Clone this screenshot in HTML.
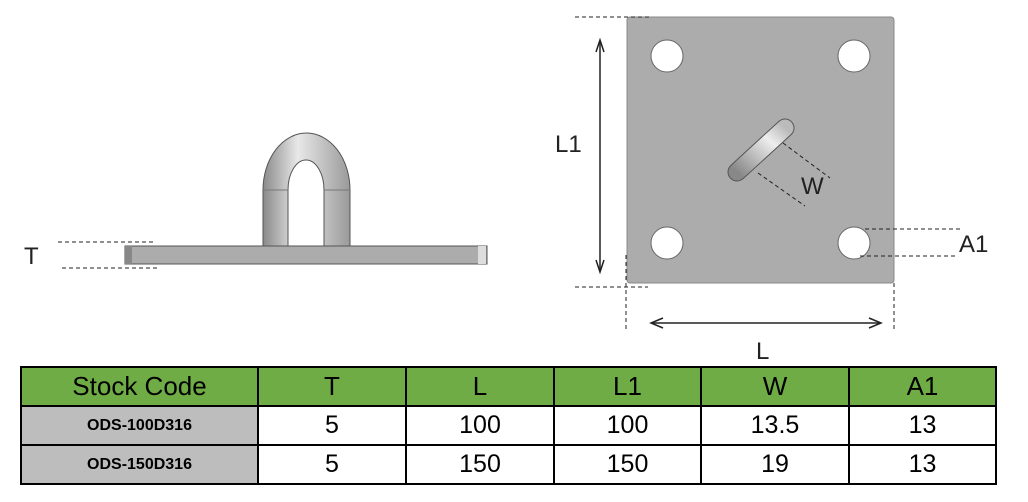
<!DOCTYPE html>
<html><head><style>
body{margin:0;background:#fff;width:1028px;height:502px;overflow:hidden;position:relative;font-family:"Liberation Sans",sans-serif}
svg{position:absolute;left:0;top:0}
table{position:absolute;left:20px;top:366px;border-collapse:collapse;font-family:"Liberation Sans",sans-serif}
td{border:2px solid #000;text-align:center;font-size:25px;padding:0;height:37px}
tr.h td{background:#6fac46;font-size:26px}
td.c{background:#bdbdbd;font-size:16px;font-weight:bold}
</style></head><body>
<svg width="1028" height="502">
<defs>
<linearGradient id="leg" x1="0" x2="1"><stop offset="0" stop-color="#8a8a8a"/><stop offset="0.4" stop-color="#e8e8e8"/><stop offset="1" stop-color="#9a9a9a"/></linearGradient>
<linearGradient id="sl" x1="0" y1="1" x2="1" y2="0"><stop offset="0" stop-color="#888"/><stop offset="0.7" stop-color="#eee"/><stop offset="1" stop-color="#bbb"/></linearGradient>
</defs>
<!-- side view -->
<path d="M263,246 V190 A43.5,57 0 0 1 350,190 V246 H324 V190 A18,30 0 0 0 288,190 V246 Z" fill="url(#leg)" stroke="#555" stroke-width="1"/>
<line x1="263" y1="190" x2="288" y2="190" stroke="#777"/><line x1="324" y1="190" x2="350" y2="190" stroke="#777"/>
<rect x="125" y="246" width="362" height="18" fill="#acacac" stroke="#555"/>
<rect x="125" y="246" width="7" height="18" fill="#888"/><rect x="478" y="246" width="8" height="18" fill="#ddd"/>
<!-- top view -->
<rect x="627" y="17" width="267" height="266" rx="3" fill="#acacac" stroke="#888"/>
<g fill="#fff" stroke="#666"><circle cx="667" cy="56" r="16"/><circle cx="854" cy="56" r="16"/><circle cx="667" cy="243" r="16"/><circle cx="854" cy="243" r="16"/></g>
<line x1="737" y1="172" x2="785" y2="128" stroke="#555" stroke-width="19" stroke-linecap="round"/>
<line x1="737" y1="172" x2="785" y2="128" stroke="url(#sl)" stroke-width="17" stroke-linecap="round"/>
<g stroke="#222" stroke-width="1" stroke-dasharray="4,3" fill="none">
<line x1="58" y1="242" x2="153" y2="242"/><line x1="62" y1="268" x2="158" y2="268"/>
<line x1="575" y1="17" x2="650" y2="17"/><line x1="575" y1="287" x2="648" y2="287"/>
<line x1="626" y1="255" x2="626" y2="330"/><line x1="894" y1="283" x2="894" y2="330"/>
<line x1="783" y1="143" x2="830" y2="178"/><line x1="758" y1="173" x2="805" y2="206"/>
<line x1="865" y1="229" x2="960" y2="229"/><line x1="860" y1="256" x2="955" y2="256"/>
</g>
<g stroke="#222" stroke-width="1.5" fill="none">
<line x1="600" y1="42" x2="600" y2="270"/><path d="M596,52 L600,40 L604,52"/><path d="M596,260 L600,272 L604,260"/>
<line x1="652" y1="323" x2="880" y2="323"/><path d="M663,318 L651,323 L663,328"/><path d="M869,318 L881,323 L869,328"/>
</g>
<g font-size="24" fill="#222" font-family="Liberation Sans,sans-serif">
<text x="24" y="264">T</text><text x="555" y="152">L1</text><text x="801" y="194">W</text><text x="959" y="252">A1</text><text x="756" y="359">L</text>
</g>
</svg>
<table>
<tr class="h"><td style="width:235px">Stock Code</td><td style="width:146px">T</td><td style="width:146px">L</td><td style="width:145px">L1</td><td style="width:146px">W</td><td style="width:145px">A1</td></tr>
<tr><td class="c">ODS-100D316</td><td>5</td><td>100</td><td>100</td><td>13.5</td><td>13</td></tr>
<tr><td class="c">ODS-150D316</td><td>5</td><td>150</td><td>150</td><td>19</td><td>13</td></tr>
</table>
</body></html>
